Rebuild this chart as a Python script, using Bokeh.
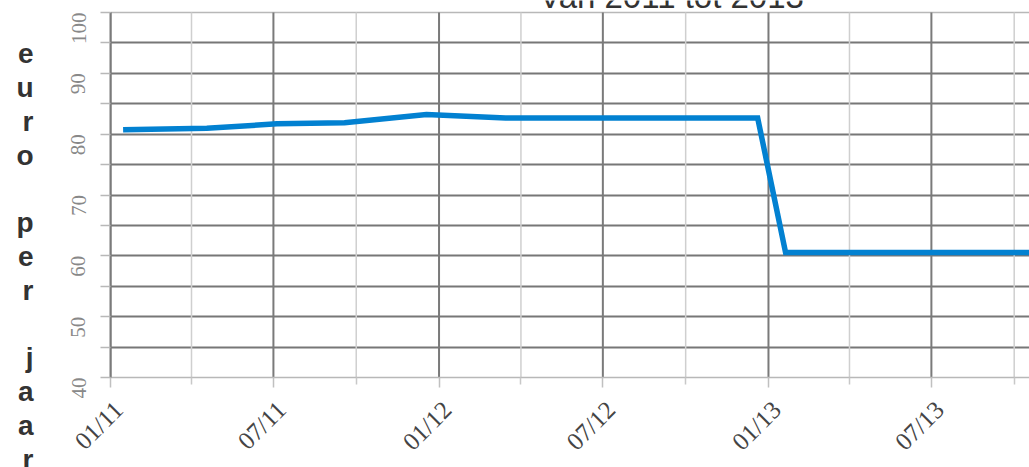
import math
from datetime import datetime
from bokeh.plotting import figure
from bokeh.models import FixedTicker, Range1d, Label, DatetimeAxis, Grid
from bokeh.embed import file_html
from bokeh.resources import INLINE

# ---- data ----
dates = ["2011-01-15", "2011-04-18", "2011-07-05", "2011-09-18", "2011-12-18",
         "2012-03-15", "2012-12-20", "2013-01-20", "2013-12-31"]
values = [80.72, 80.98, 81.70, 81.87, 83.23, 82.65, 82.65, 60.55, 60.55]

x_tick_dates = ["2011-01-01", "2011-07-01", "2012-01-01", "2012-07-01", "2013-01-01", "2013-07-01"]
x_tick_labels = ["01/11", "07/11", "01/12", "07/12", "01/13", "07/13"]
x_minor_dates = ["2011-04-01", "2011-10-01", "2012-04-01", "2012-10-01", "2013-04-01", "2013-10-01"]
y_ticks = [40, 50, 60, 70, 80, 90, 100]
y_minor = [45, 55, 65, 75, 85, 95]
title_text = "Van 2011 tot 2013"
y_title = "euro per jaar"

DAY = 86400000.0
LABEL_SHIFT_DAYS = 9   # style offset: rotated labels sit slightly right of their tick
TOP_PAD = 12           # px of white above the plot area (room for the cut-off title)


def ms(s):
    d = datetime.strptime(s, "%Y-%m-%d")
    return (d - datetime(1970, 1, 1)).total_seconds() * 1000.0


xs = [datetime.strptime(d, "%Y-%m-%d") for d in dates]
major_ms = [ms(d) for d in x_tick_dates]
minor_ms = [ms(d) for d in x_minor_dates]
label_ms = [m + LABEL_SHIFT_DAYS * DAY for m in major_ms]

W, H = 1029, 467
FRAME_BOTTOM = 90
frame_h = H - FRAME_BOTTOM
ymin, ymax = y_ticks[0], y_ticks[-1]
y_top = ymax + (ymax - ymin) * TOP_PAD / (frame_h - TOP_PAD)

p = figure(width=W, height=H, x_axis_type="datetime", output_backend="svg",
           toolbar_location=None,
           x_range=Range1d(datetime(2011, 1, 1), datetime(2013, 10, 18)),
           y_range=Range1d(ymin, y_top),
           min_border_left=110, min_border_right=0, min_border_top=0,
           min_border_bottom=FRAME_BOTTOM)
p.background_fill_color = "white"
p.border_fill_color = "white"
p.outline_line_color = None

# vertical grid lines, limited to the value range
p.xgrid.visible = False
p.segment(x0=minor_ms, y0=[ymin] * len(minor_ms), x1=minor_ms, y1=[ymax] * len(minor_ms),
          line_color="#cfcfcf", line_width=1.5)
p.segment(x0=major_ms, y0=[ymin] * len(major_ms), x1=major_ms, y1=[ymax] * len(major_ms),
          line_color="#7a7a7a", line_width=2)

# horizontal grid lines
p.ygrid.ticker = FixedTicker(ticks=sorted(y_ticks[1:-1] + y_minor))
p.ygrid.grid_line_color = "#777777"
p.ygrid.grid_line_width = 2
top_grid = Grid(dimension=1, ticker=FixedTicker(ticks=[ymax]),
                grid_line_color="#b8b8b8", grid_line_width=1.5)
p.add_layout(top_grid)

# x axis: tick marks only
xa = p.xaxis[0]
xa.ticker = FixedTicker(ticks=major_ms, minor_ticks=minor_ms)
xa.major_label_text_font_size = "0px"
xa.major_label_standoff = 0
xa.axis_line_color = "#b8b8b8"
xa.axis_line_width = 1.5
xa.major_tick_line_color = "#c0c0c0"
xa.minor_tick_line_color = "#c8c8c8"
xa.major_tick_line_width = 1.5
xa.minor_tick_line_width = 1.5
xa.major_tick_out = 10
xa.major_tick_in = 0
xa.minor_tick_out = 7
xa.minor_tick_in = 0

# x axis: rotated labels
xl = DatetimeAxis(ticker=FixedTicker(ticks=label_ms))
xl.major_label_overrides = {m: l for m, l in zip(label_ms, x_tick_labels)}
xl.major_label_orientation = math.pi / 4
xl.major_label_text_font = "Liberation Serif"
xl.major_label_text_font_size = "25px"
xl.major_label_text_color = "#444444"
xl.major_label_standoff = 18
xl.axis_line_color = None
xl.major_tick_line_color = None
xl.minor_tick_line_color = None
xl.major_tick_out = 0
xl.major_tick_in = 0
xl.minor_tick_out = 0
xl.minor_tick_in = 0
p.add_layout(xl, "below")

# y axis
ya = p.yaxis[0]
ya.bounds = (ymin, ymax)
ya.ticker = FixedTicker(ticks=y_ticks, minor_ticks=y_minor)
ya.major_label_orientation = math.pi / 2
ya.major_label_text_font = "Liberation Serif"
ya.major_label_text_font_size = "21px"
ya.major_label_text_color = "#888888"
ya.major_label_standoff = 22
ya.axis_line_color = "#7a7a7a"
ya.axis_line_width = 2
ya.major_tick_line_color = "#b8b8b8"
ya.minor_tick_line_color = "#b8b8b8"
ya.major_tick_line_width = 1.5
ya.minor_tick_line_width = 1.5
ya.major_tick_out = 10
ya.major_tick_in = 0
ya.minor_tick_out = 10
ya.minor_tick_in = 0

# vertical, letter-stacked axis title
ya.axis_label = "\n\n\n\n" + "\n".join(list(y_title))
ya.axis_label_orientation = "horizontal"
ya.axis_label_text_font = "Liberation Sans"
ya.axis_label_text_font_size = "28px"
ya.axis_label_text_font_style = "bold"
ya.axis_label_text_color = "#333333"
ya.axis_label_text_line_height = 1.09
ya.axis_label_standoff = 28

# data line
p.line(xs, values, line_color="#0281D1", line_width=5.5, line_join="miter")

# title (cut at the top as in the reference)
p.add_layout(Label(x=671, y=-4, x_units="canvas", y_units="canvas", text=title_text,
                   text_font="Liberation Sans", text_font_size="33px", text_color="#333333",
                   text_align="center", text_baseline="alphabetic"))

open("out.html", "w").write(file_html(p, INLINE))
